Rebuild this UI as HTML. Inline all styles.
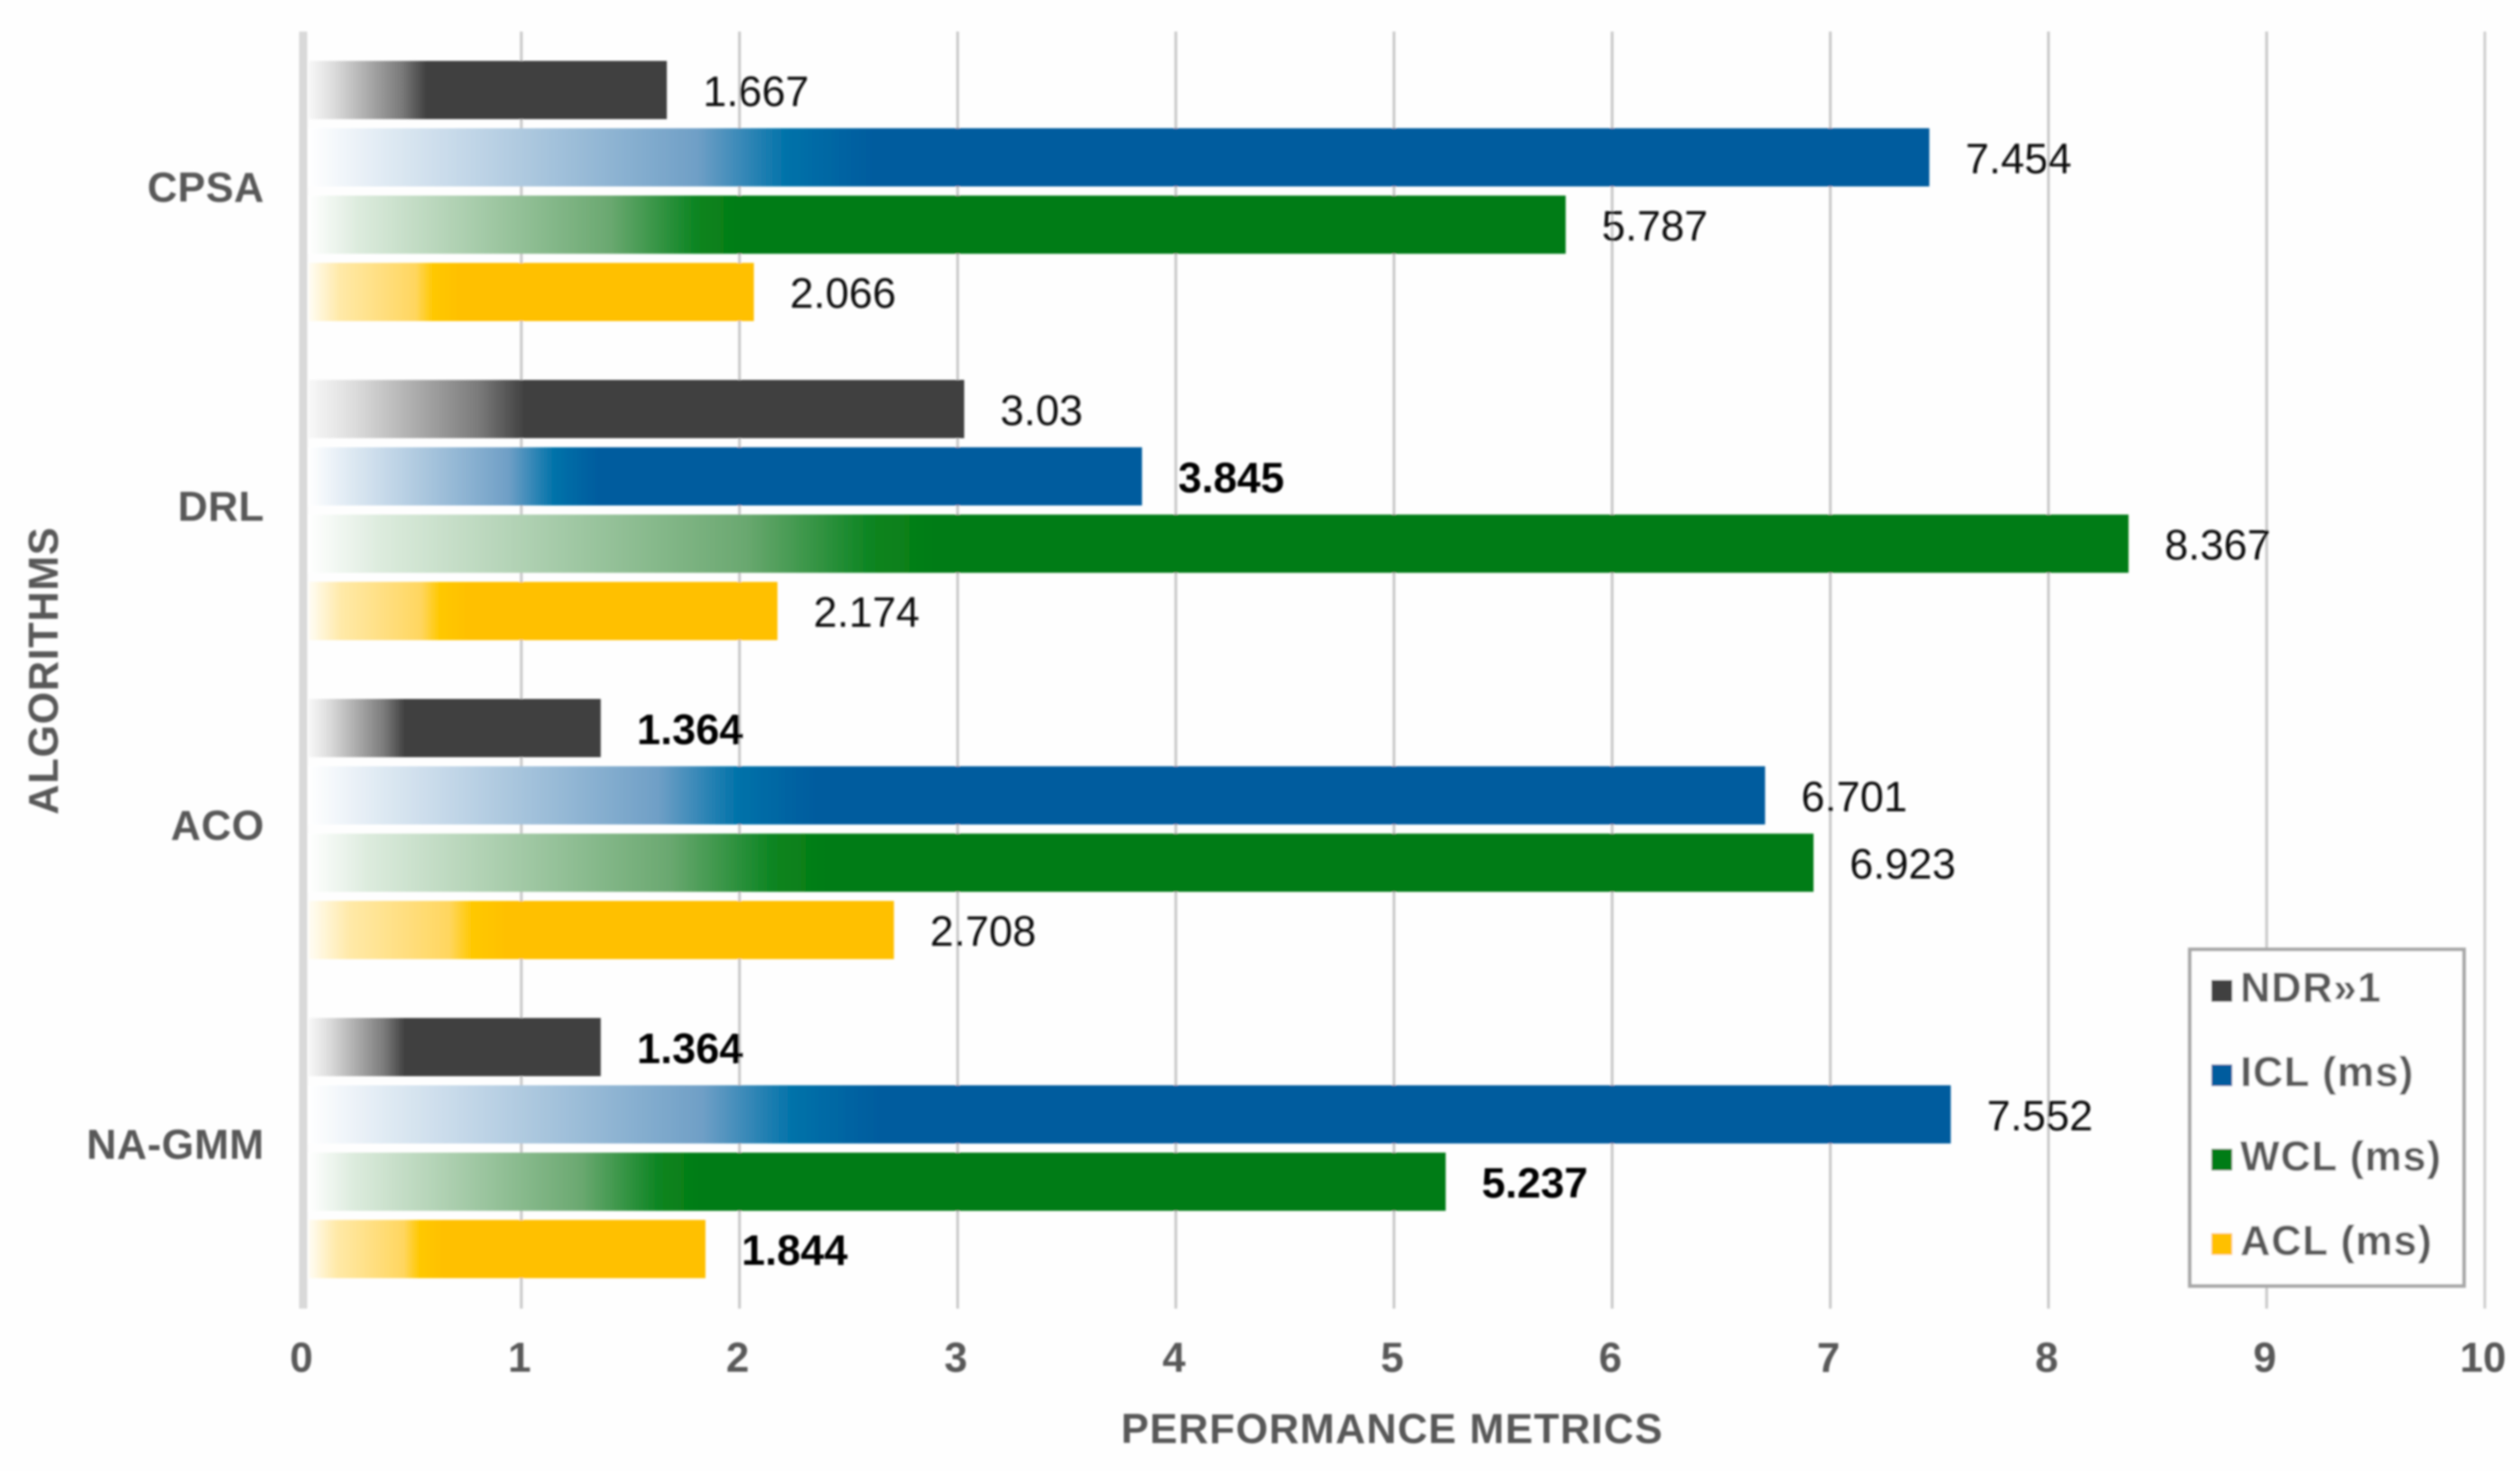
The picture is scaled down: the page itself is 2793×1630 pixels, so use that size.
<!DOCTYPE html>
<html lang="en">
<head>
<meta charset="utf-8">
<title>Performance metrics by algorithm</title>
<style>
  html, body { margin: 0; padding: 0; background: #fefefe; }
  svg { display: block; }
  text { font-family: "Liberation Sans", sans-serif; }
  .axis-text { font-size: 46px; font-weight: 700; fill: #595959; }
  .value { font-size: 47px; fill: #111; }
  .value.best { font-weight: 700; fill: #000; }
</style>
</head>
<body>
<svg id="chart" xmlns="http://www.w3.org/2000/svg" width="2793" height="1630" viewBox="0 0 2793 1630">
  <defs>
    <filter id="soft" x="0" y="0" width="2793" height="1630" filterUnits="userSpaceOnUse"><feGaussianBlur stdDeviation="1.1"/></filter>
    <linearGradient id="grad-ndr"><stop offset="0" stop-color="#f8f8f8"/><stop offset=".07" stop-color="#dcdcdc"/><stop offset=".26" stop-color="#7a7a7a"/><stop offset=".33" stop-color="#404040"/><stop offset="1" stop-color="#404040"/></linearGradient>
    <linearGradient id="grad-icl"><stop offset="0" stop-color="#ffffff"/><stop offset=".04" stop-color="#e4edf5"/><stop offset=".24" stop-color="#6f9fc6"/><stop offset=".295" stop-color="#0072a9"/><stop offset=".35" stop-color="#005b9e"/><stop offset="1" stop-color="#005b9e"/></linearGradient>
    <linearGradient id="grad-wcl"><stop offset="0" stop-color="#ffffff"/><stop offset=".04" stop-color="#dcebdd"/><stop offset=".24" stop-color="#6aa870"/><stop offset=".31" stop-color="#0a8420"/><stop offset=".345" stop-color="#047c13"/><stop offset="1" stop-color="#047c13"/></linearGradient>
    <linearGradient id="grad-acl"><stop offset="0" stop-color="#fffdf5"/><stop offset=".07" stop-color="#ffe9a8"/><stop offset=".24" stop-color="#ffd65f"/><stop offset=".28" stop-color="#ffc800"/><stop offset=".34" stop-color="#ffc000"/><stop offset="1" stop-color="#ffc000"/></linearGradient>
  </defs>
  <rect x="0" y="0" width="2793" height="1630" fill="#fefefe"/>
  <g id="plot" filter="url(#soft)"></g>
</svg>
<script>
const categories = ['CPSA', 'DRL', 'ACO', 'NA-GMM'];
const seriesKeys = ['ndr', 'icl', 'wcl', 'acl'];
const seriesNames = ['NDR\u00BB1', 'ICL (ms)', 'WCL (ms)', 'ACL (ms)'];
const ndrValues = [1.667, 3.03, 1.364, 1.364];
const iclValues = [7.454, 3.845, 6.701, 7.552];
const wclValues = [5.787, 8.367, 6.923, 5.237];
const aclValues = [2.066, 2.174, 2.708, 1.844];
const xTicks = [0, 1, 2, 3, 4, 5, 6, 7, 8, 9, 10];
const boldPoints = ['DRL:icl', 'ACO:ndr', 'NA-GMM:ndr', 'NA-GMM:wcl', 'NA-GMM:acl'];
const xAxisTitle = 'PERFORMANCE METRICS';
const yAxisTitle = 'ALGORITHMS';

const seriesValues = [ndrValues, iclValues, wclValues, aclValues];
const swatchColors = ['#404040', '#005b9e', '#047c13', '#ffc000'];

const NS = 'http://www.w3.org/2000/svg';
const plot = document.getElementById('plot');
const xScale = v => 336 + v * 241.8;
const groupTop = i => 67.5 + i * 353.5;
const barTop = (i, j) => groupTop(i) + j * 74.6;
const BAR_H = 64.5;
const BAR_START = 342;
const make = (tag, parent) => {
  const el = document.createElementNS(NS, tag);
  (parent || plot).appendChild(el);
  return el;
};

/* gridlines and axis */
xTicks.forEach(t => {
  const line = make('line');
  
  
  line.setAttribute('x1', xScale(t));
  line.setAttribute('x2', xScale(t));
  line.setAttribute('y1', 35);
  line.setAttribute('y2', 1450);
  line.setAttribute('stroke', t === 0 ? '#d9d9d9' : (t === 10 ? '#cfcfcf' : '#c8c8c8'));
  line.setAttribute('stroke-width', t === 0 ? 9 : 3);

  const label = make('text');
  
  
  label.setAttribute('class', 'axis-text');
  label.setAttribute('x', xScale(t) - 2);
  label.setAttribute('y', 1520);
  label.setAttribute('text-anchor', 'middle');
  label.textContent = t;
});

/* bars and value labels */
categories.forEach((cat, i) => {
  const catLabel = make('text');
  
  
  catLabel.setAttribute('class', 'axis-text');
  catLabel.setAttribute('x', 293);
  catLabel.setAttribute('y', groupTop(i) + 156);
  catLabel.setAttribute('text-anchor', 'end');
  catLabel.setAttribute('letter-spacing', '0.5');
  catLabel.textContent = cat;

  seriesKeys.forEach((key, j) => {
    const v = seriesValues[j][i];
    const bar = make('rect');
    
    
    bar.setAttribute('x', BAR_START);
    bar.setAttribute('y', barTop(i, j));
    bar.setAttribute('width', Math.max(0, xScale(v) - BAR_START));
    bar.setAttribute('height', BAR_H);
    bar.setAttribute('fill', 'url(#grad-' + key + ')');

    const val = make('text');
    
    
    val.setAttribute('class', boldPoints.includes(cat + ':' + key) ? 'value best' : 'value');
    val.setAttribute('x', xScale(v) + 40);
    val.setAttribute('y', barTop(i, j) + BAR_H / 2 + 17.5);
    val.textContent = String(v);
  });
});

/* axis titles */
const xTitle = make('text');


xTitle.setAttribute('class', 'axis-text');
xTitle.setAttribute('x', 1543);
xTitle.setAttribute('y', 1599);
xTitle.setAttribute('text-anchor', 'middle');
xTitle.setAttribute('letter-spacing', '1.1');
xTitle.textContent = xAxisTitle;

const yTitle = make('text');


yTitle.setAttribute('class', 'axis-text');
yTitle.setAttribute('text-anchor', 'middle');
yTitle.setAttribute('letter-spacing', '1');
yTitle.setAttribute('transform', 'translate(64 743) rotate(-90)');
yTitle.textContent = yAxisTitle;

/* legend */
const legend = make('g');


const legendBox = make('rect', legend);


legendBox.setAttribute('x', 2427);
legendBox.setAttribute('y', 1052);
legendBox.setAttribute('width', 304);
legendBox.setAttribute('height', 373);
legendBox.setAttribute('fill', '#fefefe');
legendBox.setAttribute('stroke', '#a8a8a8');
legendBox.setAttribute('stroke-width', 4);

seriesKeys.forEach((key, j) => {
  const baseline = 1110 + j * 93.5;
  const swatch = make('rect', legend);
  
  
  swatch.setAttribute('x', 2451);
  swatch.setAttribute('y', baseline - 24);
  swatch.setAttribute('width', 23);
  swatch.setAttribute('height', 24);
  swatch.setAttribute('fill', swatchColors[j]);

  const entry = make('text', legend);
  
  
  entry.setAttribute('class', 'axis-text');
  entry.setAttribute('x', 2483);
  entry.setAttribute('y', baseline);
  entry.setAttribute('letter-spacing', '1.2');
  entry.textContent = seriesNames[j];
});
</script>
</body>
</html>
